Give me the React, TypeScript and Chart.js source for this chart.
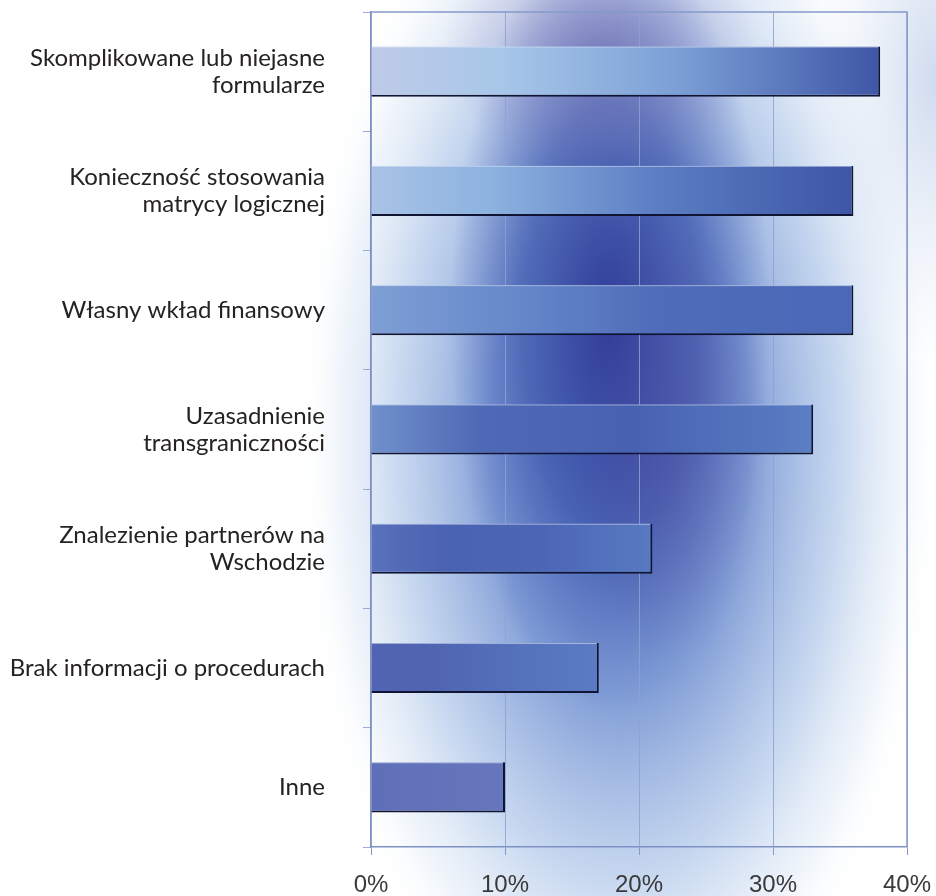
import React, { useEffect, useRef } from "react";
import { Chart, registerables } from "chart.js";

Chart.register(...registerables);

const categories: (string | string[])[] = [
  ["Skomplikowane lub niejasne", "formularze"],
  ["Konieczność stosowania", "matrycy logicznej"],
  "Własny wkład finansowy",
  ["Uzasadnienie", "transgraniczności"],
  ["Znalezienie partnerów na", "Wschodzie"],
  "Brak informacji o procedurach",
  "Inne",
];
const values = [38, 36, 36, 33, 21, 17, 10];
const xMin = 0;
const xMax = 40;
const xStep = 10;

// style: per-bar horizontal gradient stops (positions 0, .25, .6, 1)
const barStops = [
  ["#bfcbe8", "#a8c7e9", "#7ba0d6", "#3e56a6"],
  ["#a9c3e6", "#8cb2df", "#5a7dc3", "#3d55a5"],
  ["#7e9ed5", "#6a8ccc", "#4e6cb9", "#4b68b8"],
  ["#7090cc", "#4e69b5", "#4862b2", "#5a7ec4"],
  ["#5a72bb", "#4a62b2", "#4c66b5", "#587ac2"],
  ["#5064b3", "#5064b2", "#5470ba", "#5a7cc4"],
  ["#5e6fb9", "#6171ba", "#6474bb", "#6677bd"],
];

function ellipseGlow(
  ctx: CanvasRenderingContext2D,
  cx: number,
  cy: number,
  rx: number,
  ry: number,
  stops: [number, string][],
  w: number,
  h: number
) {
  ctx.save();
  ctx.translate(cx, cy);
  ctx.scale(1, ry / rx);
  const g = ctx.createRadialGradient(0, 0, 0, 0, 0, rx);
  stops.forEach(([p, c]) => g.addColorStop(p, c));
  ctx.fillStyle = g;
  const k = rx / ry;
  ctx.fillRect(-cx, -cy * k, w, h * k);
  ctx.restore();
}

const backgroundPlugin = {
  id: "bgGlow",
  beforeDraw(chart: any) {
    const { ctx, width, height } = chart;
    ctx.save();
    ctx.fillStyle = "#ffffff";
    ctx.fillRect(0, 0, width, height);
    // broad light-blue glow
    ellipseGlow(ctx, 620, 440, 325, 650, [
      [0, "rgba(70,100,185,0.9)"],
      [0.4, "rgba(100,135,205,0.8)"],
      [0.68, "rgba(165,192,230,0.62)"],
      [0.86, "rgba(212,226,243,0.38)"],
      [1, "rgba(255,255,255,0)"],
    ], width, height);
    // dark core
    ellipseGlow(ctx, 610, 320, 160, 390, [
      [0, "rgba(40,50,145,0.9)"],
      [0.55, "rgba(50,75,165,0.6)"],
      [1, "rgba(60,90,180,0)"],
    ], width, height);
    // purple tint at top
    ellipseGlow(ctx, 600, 50, 160, 120, [
      [0, "rgba(115,100,170,0.5)"],
      [1, "rgba(140,120,185,0)"],
    ], width, height);
    // purple tint middle right
    ellipseGlow(ctx, 670, 440, 100, 220, [
      [0, "rgba(85,75,155,0.4)"],
      [1, "rgba(90,80,160,0)"],
    ], width, height);
    // top-right faint blue
    ellipseGlow(ctx, 936, 80, 120, 280, [
      [0, "rgba(175,195,228,0.6)"],
      [1, "rgba(200,215,238,0)"],
    ], width, height);
    ctx.restore();
  },
  beforeDatasetsDraw(chart: any) {
    const { ctx, chartArea } = chart;
    ctx.save();
    ctx.strokeStyle = "#8799c9";
    ctx.lineWidth = 1.5;
    ctx.beginPath();
    ctx.moveTo(chartArea.left, chartArea.top);
    ctx.lineTo(chartArea.right, chartArea.top);
    ctx.lineTo(chartArea.right, chartArea.bottom);
    ctx.stroke();
    ctx.restore();
  },
  afterDatasetsDraw(chart: any) {
    const { ctx } = chart;
    const meta = chart.getDatasetMeta(0);
    ctx.save();
    ctx.strokeStyle = "rgba(225,232,248,0.55)";
    ctx.lineWidth = 1;
    meta.data.forEach((bar: any) => {
      const top = bar.y - bar.height / 2 + 0.5;
      ctx.beginPath();
      ctx.moveTo(bar.base, top);
      ctx.lineTo(bar.x - 2, top);
      ctx.stroke();
    });
    ctx.restore();
  },
};

export default function App() {
  const ref = useRef<HTMLCanvasElement | null>(null);

  useEffect(() => {
    document.body.style.margin = "0";
    const canvas = ref.current;
    if (!canvas) return;
    const chart = new Chart(canvas, {
      type: "bar",
      data: {
        labels: categories,
        datasets: [
          {
            data: values,
            backgroundColor: (c: any) => {
              const chart = c.chart;
              const i = c.dataIndex;
              const xs = chart.scales?.x;
              if (!chart.chartArea || !xs || i === undefined) return "#4a62b2";
              const x0 = xs.getPixelForValue(0);
              const x1 = xs.getPixelForValue(values[i]);
              const g = chart.ctx.createLinearGradient(x0, 0, x1, 0);
              const s = barStops[i];
              g.addColorStop(0, s[0]);
              g.addColorStop(0.25, s[1]);
              g.addColorStop(0.6, s[2]);
              g.addColorStop(1, s[3]);
              return g;
            },
            borderColor: "#0f1533",
            borderWidth: { top: 0, left: 0, right: 2, bottom: 2 } as any,
            borderSkipped: false,
            barPercentage: 0.42,
            categoryPercentage: 1,
          },
        ],
      },
      options: {
        indexAxis: "y",
        animation: false,
        responsive: false,
        layout: { padding: { top: 12, right: 29, left: 0, bottom: 0 } },
        plugins: {
          legend: { display: false },
          tooltip: { enabled: false },
        },
        scales: {
          x: {
            min: xMin,
            max: xMax,
            ticks: {
              stepSize: xStep,
              callback: (v: any) => v + "%",
              font: { family: "'Liberation Sans', Arial, sans-serif", size: 24 },
              color: "#3a3a3a",
              padding: 16,
              maxRotation: 0,
            },
            grid: {
              color: "rgba(140,162,210,0.85)",
              lineWidth: 1,
              tickLength: 8,
              tickColor: "#8799c9",
            },
            border: { color: "#7f91c4", width: 1.5 },
            afterFit: (s: any) => {
              s.height = 49;
              s.paddingLeft = 0;
              s.paddingRight = 0;
            },
          },
          y: {
            ticks: {
              font: { family: "Lato, 'Open Sans', sans-serif", size: 24, lineHeight: 1.12 },
              color: "#262223",
              padding: 38,
            },
            grid: {
              offset: true,
              drawOnChartArea: false,
              tickLength: 8,
              tickColor: "#9aabd4",
            },
            border: { color: "#7f91c4", width: 1.5 },
            afterFit: (s: any) => {
              s.width = 371;
              s.paddingTop = 0;
              s.paddingBottom = 0;
            },
          },
        },
      },
      plugins: [backgroundPlugin],
    });
    return () => chart.destroy();
  }, []);

  return (
    <div style={{ width: 936, height: 896 }}>
      <canvas ref={ref} width={936} height={896} />
    </div>
  );
}
